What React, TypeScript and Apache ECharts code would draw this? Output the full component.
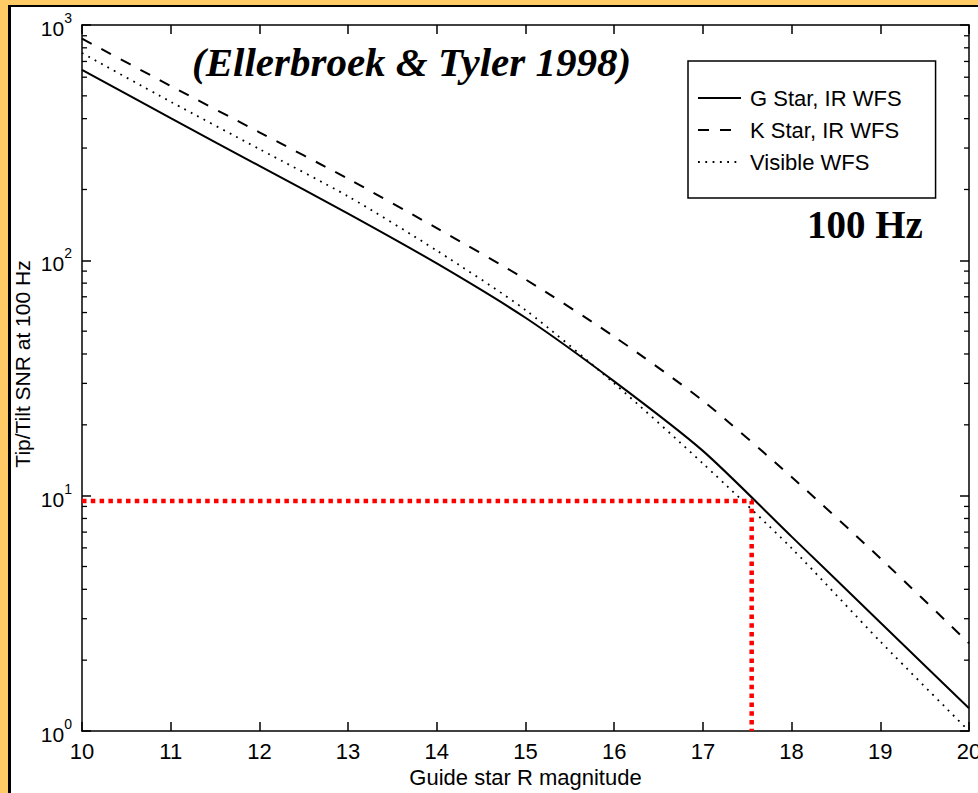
import React, { useEffect, useRef } from "react";
import * as echarts from "echarts";

// Guide star R magnitude (x) and tip/tilt SNR at 100 Hz (y, log)
const magnitudes = [10, 11, 12, 13, 14, 15, 16, 17, 18, 19, 20];
const gStarIR = [645, 402, 252, 158, 97, 57, 30.6, 15.5, 6.7, 2.89, 1.25];
const kStarIR = [875, 551, 350, 222, 137, 83, 47.4, 25.3, 12.0, 5.42, 2.36];
const visibleWFS = [760, 472, 297, 187, 110, 61.5, 30, 13.7, 5.98, 2.4, 1.0];

// Red marker: SNR 10 threshold reached at R ~ 17.55
const markerPath: [number, number][] = [
  [10, 9.5],
  [17.55, 9.5],
  [17.55, 1],
];

const seriesNames = ["G Star, IR WFS", "K Star, IR WFS", "Visible WFS"];
const decades = [1, 10, 100];
const minorMultipliers = [2, 3, 4, 5, 6, 7, 8, 9];

const FONT = "'Liberation Sans', Arial, Helvetica, sans-serif";
const SERIF = "'Liberation Serif', 'Times New Roman', serif";

export default function App() {
  const ref = useRef<HTMLDivElement>(null);

  useEffect(() => {
    if (!ref.current) return;
    const chart = echarts.init(ref.current, undefined, { renderer: "svg" });

    const pair = (ys: number[]) => magnitudes.map((x, i) => [x, ys[i]]);
    const minorTicks: number[][] = [];
    decades.forEach((d) => minorMultipliers.forEach((m) => minorTicks.push([10, d * m])));

    const axisLineStyle = { color: "#000", width: 1.5 };

    chart.setOption({
      animation: false,
      backgroundColor: "transparent",
      grid: { left: 82, top: 25, right: 9, bottom: 62, containLabel: false, outerBoundsMode: "none" },
      legend: {
        data: seriesNames,
        orient: "vertical",
        left: 688,
        top: 61,
        align: "left",
        itemWidth: 43,
        itemHeight: 14,
        itemGap: 10,
        padding: [26, 34, 25, 9],
        backgroundColor: "#fff",
        borderColor: "#000",
        borderWidth: 1.5,
        borderRadius: 0,
        selectedMode: false,
        itemStyle: { opacity: 0, borderWidth: 0 },
        textStyle: {
          fontFamily: FONT,
          fontSize: 22,
          lineHeight: 20,
          color: "#000",
          padding: [0, 0, 0, 4],
        },
      },
      xAxis: [
        {
          type: "value",
          min: 10,
          max: 20,
          interval: 1,
          position: "bottom",
          axisLine: { show: true, onZero: false, lineStyle: axisLineStyle },
          axisTick: { show: true, inside: true, length: 9, lineStyle: { color: "#000", width: 1.5 } },
          axisLabel: { color: "#000", fontFamily: FONT, fontSize: 22, margin: 9, hideOverlap: false },
          splitLine: { show: false },
          name: "Guide star R magnitude",
          nameLocation: "middle",
          nameGap: 33,
          nameTextStyle: { color: "#000", fontFamily: FONT, fontSize: 22 },
        },
        {
          type: "value",
          min: 10,
          max: 20,
          interval: 1,
          position: "top",
          axisLine: { show: true, onZero: false, lineStyle: axisLineStyle },
          axisTick: { show: true, inside: true, length: 9, lineStyle: { color: "#000", width: 1.5 } },
          axisLabel: { show: false },
          splitLine: { show: false },
        },
      ],
      yAxis: [
        {
          type: "log",
          logBase: 10,
          min: 1,
          max: 1000,
          position: "left",
          axisLine: { show: true, onZero: false, lineStyle: axisLineStyle },
          axisTick: { show: true, inside: true, length: 9, lineStyle: { color: "#000", width: 1.5 } },
          axisLabel: {
            margin: 10,
            formatter: (v: number) => `{b|10}{s|${Math.round(Math.log10(v))}}`,
            rich: {
              b: { fontFamily: FONT, fontSize: 21, color: "#000", lineHeight: 28, verticalAlign: "bottom" },
              s: { fontFamily: FONT, fontSize: 14, color: "#000", lineHeight: 14, verticalAlign: "top" },
            },
          },
          splitLine: { show: false },
        },
        {
          type: "log",
          logBase: 10,
          min: 1,
          max: 1000,
          position: "right",
          axisLine: { show: true, onZero: false, lineStyle: axisLineStyle },
          axisTick: { show: true, inside: true, length: 9, lineStyle: { color: "#000", width: 1.5 } },
          axisLabel: { show: false },
          splitLine: { show: false },
        },
      ],
      graphic: [
        {
          type: "text",
          left: 192,
          top: 41,
          z: 10,
          style: {
            text: "(Ellerbroek & Tyler 1998)",
            fontFamily: SERIF,
            fontSize: 41,
            fontWeight: "bold",
            fontStyle: "italic",
            fill: "#000",
          },
        },
        {
          type: "text",
          left: 807,
          top: 205,
          z: 10,
          style: {
            text: "100 Hz",
            fontFamily: SERIF,
            fontSize: 39,
            fontWeight: "bold",
            fill: "#000",
          },
        },
        {
          type: "text",
          x: 22,
          y: 364,
          rotation: Math.PI / 2,
          z: 10,
          style: {
            text: "Tip/Tilt SNR at 100 Hz",
            fontFamily: FONT,
            fontSize: 21,
            fill: "#000",
            align: "center",
            verticalAlign: "middle",
          },
        },
      ],
      series: [
        {
          name: seriesNames[0],
          type: "line",
          data: pair(gStarIR),
          symbol: "none",
          smooth: 0.25,
          color: "#000",
          lineStyle: { color: "#000", width: 2 },
          z: 3,
        },
        {
          name: seriesNames[1],
          type: "line",
          data: pair(kStarIR),
          symbol: "none",
          smooth: 0.25,
          color: "#000",
          lineStyle: { color: "#000", width: 2, type: [11, 11] },
          z: 3,
        },
        {
          name: seriesNames[2],
          type: "line",
          data: pair(visibleWFS),
          symbol: "none",
          smooth: 0.25,
          color: "#000",
          lineStyle: { color: "#000", width: 1.8, type: [1.8, 5.5] },
          z: 3,
        },
        {
          name: "marker",
          type: "line",
          data: markerPath,
          symbol: "none",
          color: "#ff0000",
          lineStyle: { color: "#ff0000", width: 4.5, type: [4.5, 4.3], cap: "butt" },
          z: 4,
        },
        {
          name: "minorTicks",
          type: "custom",
          data: minorTicks,
          z: 5,
          renderItem: (params: any, api: any) => {
            const y = api.coord([10, api.value(1)])[1];
            const cs = params.coordSys;
            const style = { stroke: "#000", lineWidth: 1.3 };
            return {
              type: "group",
              children: [
                { type: "line", shape: { x1: cs.x, y1: y, x2: cs.x + 5, y2: y }, style },
                { type: "line", shape: { x1: cs.x + cs.width - 5, y1: y, x2: cs.x + cs.width, y2: y }, style },
              ],
            };
          },
        },
      ],
    });

    return () => chart.dispose();
  }, []);

  return (
    <div
      style={{
        position: "fixed",
        left: 0,
        top: 0,
        width: 978,
        height: 793,
        background: "#FECB66",
        overflow: "hidden",
      }}
    >
      <div
        style={{
          position: "absolute",
          left: 8,
          top: 5,
          width: 978,
          height: 786,
          background: "#fff",
          borderLeft: "3px solid #000",
          borderTop: "2px solid #000",
          borderBottom: "1px solid #ddd",
        }}
      />
      <div ref={ref} style={{ position: "absolute", left: 0, top: 0, width: 978, height: 793 }} />
    </div>
  );
}
